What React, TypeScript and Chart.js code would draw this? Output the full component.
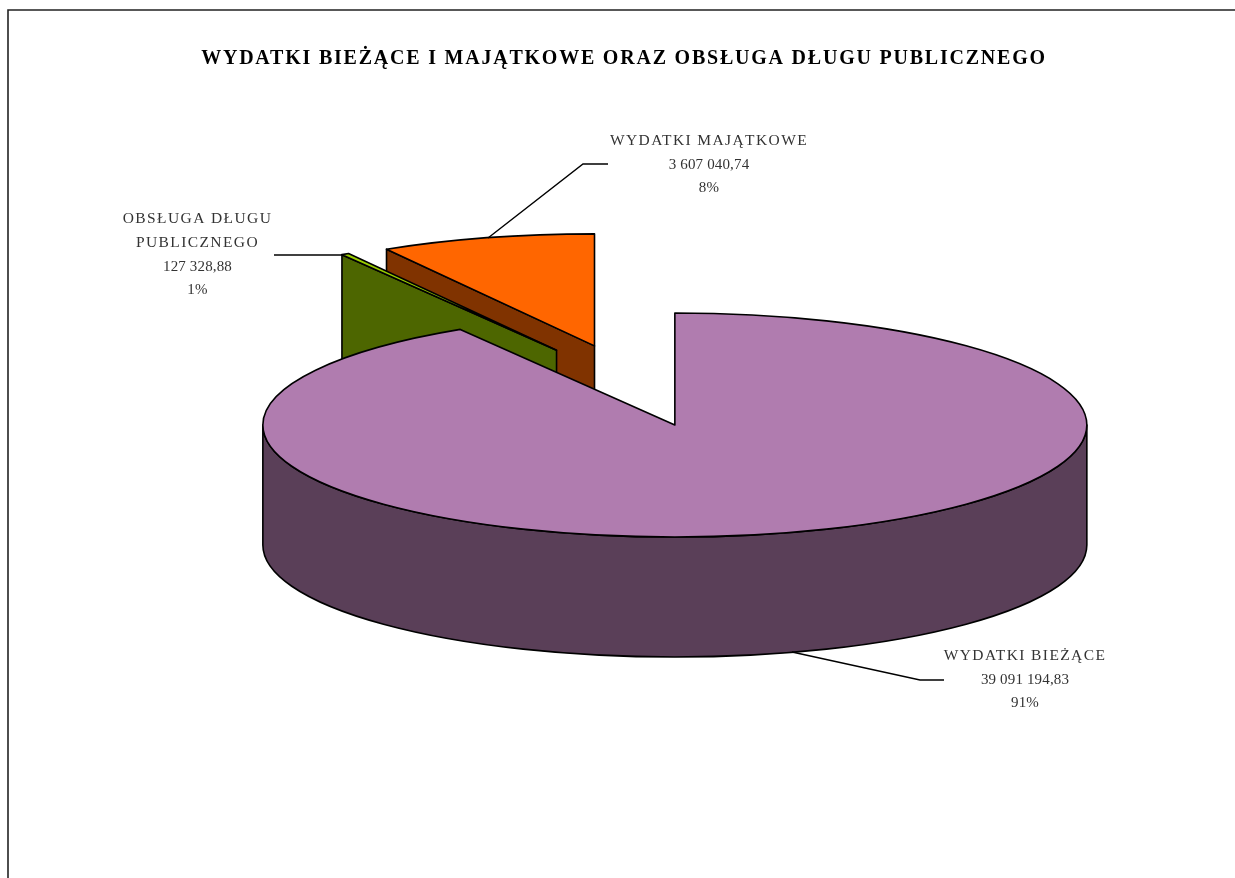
import React, { useEffect, useRef } from "react";
import { Chart, registerables } from "chart.js";

Chart.register(...registerables);

const chartTitle = "WYDATKI BIEŻĄCE I MAJĄTKOWE ORAZ OBSŁUGA DŁUGU PUBLICZNEGO";
const categories = ["WYDATKI BIEŻĄCE", "OBSŁUGA DŁUGU PUBLICZNEGO", "WYDATKI MAJĄTKOWE"];
const seriesValues = [39091194.83, 127328.88, 3607040.74];
const valueLabels = ["39 091 194,83", "127 328,88", "3 607 040,74"];
const percentLabels = ["91%", "1%", "8%"];
const topColors = ["#B07CAF", "#99CC00", "#FF6600"];
const sideColors = ["#5A3F58", "#4D6600", "#803300"];

const TILT = 112 / 412;
const DEPTH = 120;
const FONT = "'Liberation Serif', serif";

type LabelSpot = { lines: string[]; x: number; y: number; gap: number; leader: number[][] };
const labelSpots: LabelSpot[] = [
  {
    lines: [categories[0], valueLabels[0], percentLabels[0]],
    x: 1025,
    y: 660,
    gap: 23.6,
    leader: [[944, 680], [920, 680], [792, 652]],
  },
  {
    lines: ["OBSŁUGA DŁUGU", "PUBLICZNEGO", valueLabels[1], percentLabels[1]],
    x: 197.5,
    y: 223,
    gap: 23.8,
    leader: [[274, 255], [344, 255]],
  },
  {
    lines: [categories[2], valueLabels[2], percentLabels[2]],
    x: 709,
    y: 145,
    gap: 23.6,
    leader: [[608, 164], [583, 164], [488, 238]],
  },
];

const tiltedPie = {
  id: "tiltedPie",
  beforeDatasetDraw(chart: any) {
    const ctx: CanvasRenderingContext2D = chart.ctx;
    const arcs: any[] = chart.getDatasetMeta(0).data;
    const pieces = arcs.map((arc, i) => {
      const mid = (arc.startAngle + arc.endAngle) / 2;
      const offset = arc.options.offset;
      return {
        arc,
        i,
        cx: arc.x + Math.cos(mid) * offset,
        cy: arc.y + Math.sin(mid) * offset * TILT,
      };
    });
    pieces.sort((a, b) => a.cy - b.cy);
    ctx.save();
    ctx.lineJoin = "round";
    ctx.strokeStyle = "#000";
    ctx.lineWidth = 1.6;
    for (const { arc, i, cx, cy } of pieces) {
      const r = arc.outerRadius;
      const rim = (a: number) => [cx + Math.cos(a) * r, cy + Math.sin(a) * r * TILT];
      const paint = (fill: string) => {
        ctx.fillStyle = fill;
        ctx.fill();
        ctx.stroke();
      };
      // radial cut faces that turn towards the viewer
      const faces: number[] = [];
      if (Math.cos(arc.startAngle) < -1e-6) faces.push(arc.startAngle);
      if (Math.cos(arc.endAngle) > 1e-6) faces.push(arc.endAngle);
      for (const a of faces) {
        const [px, py] = rim(a);
        ctx.beginPath();
        ctx.moveTo(cx, cy);
        ctx.lineTo(px, py);
        ctx.lineTo(px, py + DEPTH);
        ctx.lineTo(cx, cy + DEPTH);
        ctx.closePath();
        paint(sideColors[i]);
      }
      // outer wall on the near half of the rim
      for (const turn of [0, Math.PI * 2]) {
        const a0 = Math.max(arc.startAngle, turn);
        const a1 = Math.min(arc.endAngle, turn + Math.PI);
        if (a1 <= a0) continue;
        ctx.beginPath();
        ctx.ellipse(cx, cy, r, r * TILT, 0, a0, a1);
        ctx.ellipse(cx, cy + DEPTH, r, r * TILT, 0, a1, a0, true);
        ctx.closePath();
        paint(sideColors[i]);
      }
      // top face
      ctx.beginPath();
      ctx.moveTo(cx, cy);
      ctx.ellipse(cx, cy, r, r * TILT, 0, arc.startAngle, arc.endAngle);
      ctx.closePath();
      paint(arc.options.backgroundColor);
    }
    ctx.restore();
    return false;
  },
  afterDraw(chart: any) {
    const ctx: CanvasRenderingContext2D = chart.ctx;
    ctx.save();
    // frame
    ctx.strokeStyle = "#222";
    ctx.lineWidth = 1.6;
    ctx.beginPath();
    ctx.moveTo(8, 878);
    ctx.lineTo(8, 10);
    ctx.lineTo(1235, 10);
    ctx.stroke();
    // title
    ctx.fillStyle = "#000";
    ctx.textAlign = "center";
    ctx.textBaseline = "alphabetic";
    ctx.font = `bold 20px ${FONT}`;
    (ctx as any).letterSpacing = "1.78px";
    ctx.fillText(chartTitle, 624, 64);
    // labels
    ctx.fillStyle = "#333";
    ctx.strokeStyle = "#000";
    ctx.lineWidth = 1.4;
    for (const spot of labelSpots) {
      spot.lines.forEach((line, n) => {
        const numeric = /^[0-9]/.test(line);
        ctx.font = `${numeric ? 15 : 15.5}px ${FONT}`;
        (ctx as any).letterSpacing = numeric ? "0.15px" : "1.4px";
        ctx.fillText(line, spot.x, spot.y + n * spot.gap);
      });
      ctx.beginPath();
      spot.leader.forEach(([x, y], n) => (n ? ctx.lineTo(x, y) : ctx.moveTo(x, y)));
      ctx.stroke();
    }
    ctx.restore();
  },
};

export default function App() {
  const ref = useRef<HTMLCanvasElement>(null);
  useEffect(() => {
    document.documentElement.style.overflow = "hidden";
    const chart = new Chart(ref.current as HTMLCanvasElement, {
      type: "pie",
      data: {
        labels: categories,
        datasets: [
          {
            data: seriesValues,
            backgroundColor: topColors,
            offset: 151,
            radius: 412,
            borderWidth: 0,
          } as any,
        ],
      },
      options: {
        animation: false,
        responsive: false,
        events: [],
        layout: { padding: { left: 33, bottom: 107 } },
        plugins: { legend: { display: false }, tooltip: { enabled: false }, title: { display: false } },
      },
      plugins: [tiltedPie],
    });
    return () => chart.destroy();
  }, []);
  return (
    <canvas
      ref={ref}
      width={1235}
      height={878}
      style={{ position: "fixed", left: 0, top: 0, width: 1235, height: 878, display: "block" }}
    />
  );
}
